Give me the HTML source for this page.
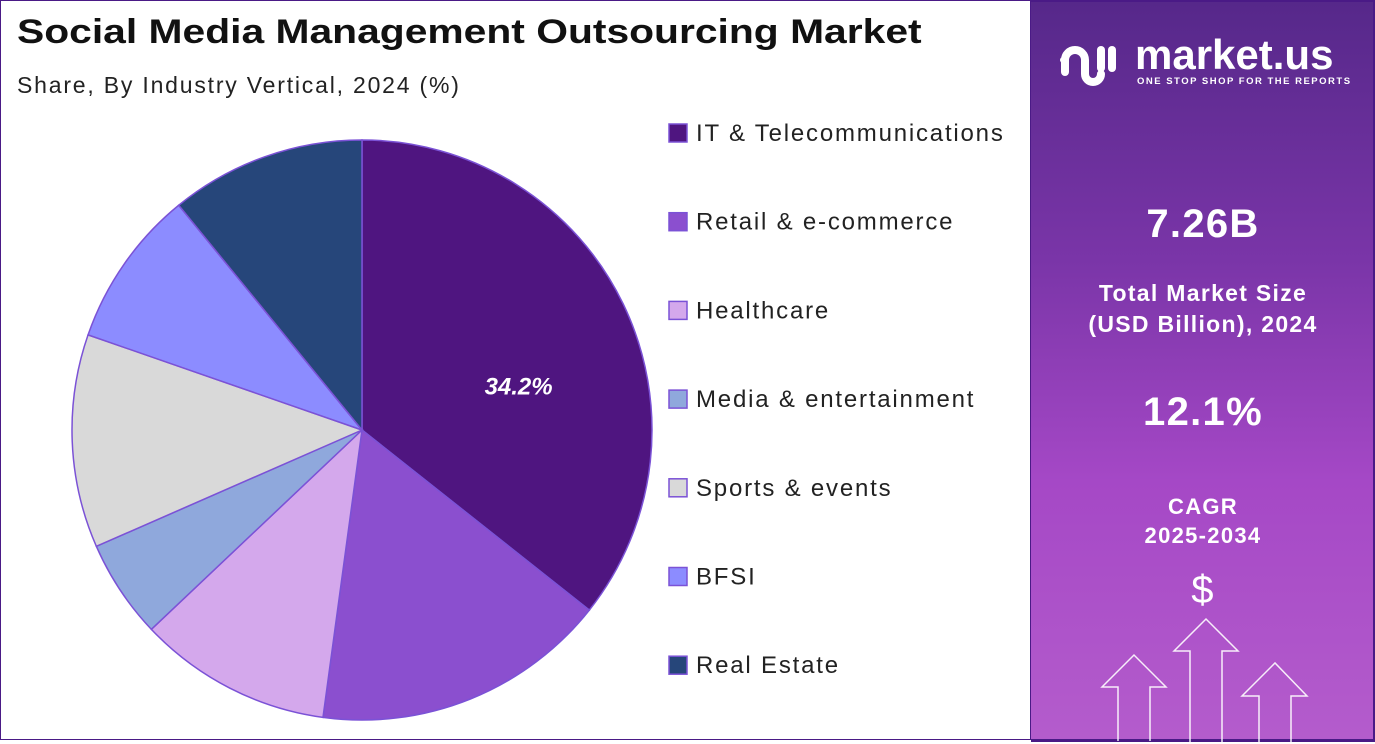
<!DOCTYPE html>
<html><head><meta charset="utf-8"><style>
body{margin:0;width:1375px;height:742px;overflow:hidden;background:#fff;font-family:"Liberation Sans",sans-serif}
#wrap{position:relative;width:1375px;height:742px}
#left{position:absolute;left:0;top:0;width:1031px;height:740px;border:1px solid #4a1a86;box-sizing:border-box}
#right{position:absolute;left:1031px;top:0;width:344px;height:742px;background:linear-gradient(180deg,#56288a 0%,#7a35a8 35%,#a548c6 65%,#b45ccc 100%);border-top:2px solid #4a1a86;border-bottom:3px solid #4a1a86;border-right:2px solid #4a1a86;box-sizing:border-box}
.t{position:absolute;color:#fff;text-align:center;width:344px;left:0;font-weight:bold;letter-spacing:1.3px}
</style></head><body><div id="wrap">
<div id="left">
<div style="position:absolute;left:16px;top:12px;font-size:34px;font-weight:bold;color:#111;transform:scaleX(1.2);transform-origin:left top;white-space:nowrap">Social Media Management Outsourcing Market</div>
<div style="position:absolute;left:16px;top:71px;font-size:23px;color:#222;letter-spacing:1.8px;white-space:nowrap">Share, By Industry Vertical, 2024 (%)</div>
<svg id="pie" width="1031" height="740" style="position:absolute;left:0;top:0"></svg>
</div>
<div id="right">
<div style="position:absolute;left:26px;top:36px;width:310px;height:50px">
<svg width="60" height="50" style="position:absolute;left:0;top:0"><g fill="none" stroke="#fff" stroke-width="8" stroke-linecap="round"><path d="M8 34 V22 a10 10 0 0 1 20 0 V36 a8 8 0 0 0 16 0"/><path d="M44 12 V30"/><path d="M55 12 V30"/></g><circle cx="6" cy="22" r="3" fill="#fff"/></svg>
<div style="position:absolute;left:78px;top:-7px;font-size:42px;font-weight:bold;color:#fff;white-space:nowrap">market.us</div>
<div style="position:absolute;left:80px;top:38px;font-size:9.5px;font-weight:bold;color:#fff;letter-spacing:1.5px;white-space:nowrap">ONE STOP SHOP FOR THE REPORTS</div>
</div>
<div class="t" style="top:200px;font-size:40px">7.26B</div>
<div class="t" style="top:276px;font-size:23px;line-height:31px">Total Market Size<br>(USD Billion), 2024</div>
<div class="t" style="top:388px;font-size:40px">12.1%</div>
<div class="t" style="top:490px;font-size:22px;line-height:29px">CAGR<br>2025-2034</div>
<div class="t" style="top:566px;font-size:40px;font-weight:normal">$</div>
<svg width="344" height="742" style="position:absolute;left:0;top:0"><g fill="none" stroke="#fff" stroke-width="1.5" opacity="0.9">
<path d="M87 739 V685 H71 L103 653 L135 685 H119 V739"/>
<path d="M159 742 V649 H143 L175 617 L207 649 H191 V742"/>
<path d="M228 742 V694 H211 L244 661 L276 694 H260 V742"/></g></svg>
</div>
</div>
<script>
const categories=["IT & Telecommunications","Retail & e-commerce","Healthcare","Media & entertainment","Sports & events","BFSI","Real Estate"];
const values=[35.7,16.5,10.8,5.5,11.9,8.8,10.9];
const labelText=["34.2%"];
const colors=["#4f1580","#8b4fcf","#d4a8ec","#8fa8dc","#d9d9d9","#8c8cff","#26467a"];
const ns="http://www.w3.org/2000/svg",svg=document.getElementById('pie');
const cx=361,cy=429,R=290;
const total=values.reduce((a,b)=>a+b,0);
function pt(a,r){return [cx+r*Math.sin(a),cy-r*Math.cos(a)];}
let a0=0;
values.forEach((v,i)=>{
 const a1=a0+v/total*2*Math.PI;
 const p0=pt(a0,R),p1=pt(a1,R);
 const p=document.createElementNS(ns,'path');
 p.setAttribute('d',`M${cx} ${cy} L${p0[0]} ${p0[1]} A${R} ${R} 0 ${a1-a0>Math.PI?1:0} 1 ${p1[0]} ${p1[1]} Z`);
 p.setAttribute('fill',colors[i]);p.setAttribute('stroke','#7b52d6');p.setAttribute('stroke-width','1.5');
 
 
 svg.appendChild(p);
 if(i===0){const m=pt((a0+a1)/2,R*0.55);const t=document.createElementNS(ns,'text');
  t.setAttribute('x',m[0]+13);t.setAttribute('y',m[1]+34);t.setAttribute('fill','#fff');t.setAttribute('font-size','24');
  t.setAttribute('font-weight','bold');t.setAttribute('font-style','italic');t.setAttribute('text-anchor','middle');
  
  
  t.textContent=labelText[0];svg.appendChild(t);}
 a0=a1;
});
categories.forEach((c,i)=>{
 const y=132+i*88.7;
 const r=document.createElementNS(ns,'rect');
 r.setAttribute('x',668);r.setAttribute('y',y-9);r.setAttribute('width',18);r.setAttribute('height',18);
 r.setAttribute('fill',colors[i]);r.setAttribute('stroke','#7b52d6');r.setAttribute('stroke-width','1.5');
 
 
 svg.appendChild(r);
 const t=document.createElementNS(ns,'text');
 t.setAttribute('x',695);t.setAttribute('y',y+8);t.setAttribute('font-size','24');t.setAttribute('fill','#222');
 t.setAttribute('letter-spacing','1.8');
 
 
 t.textContent=c;svg.appendChild(t);
});
</script></body></html>
